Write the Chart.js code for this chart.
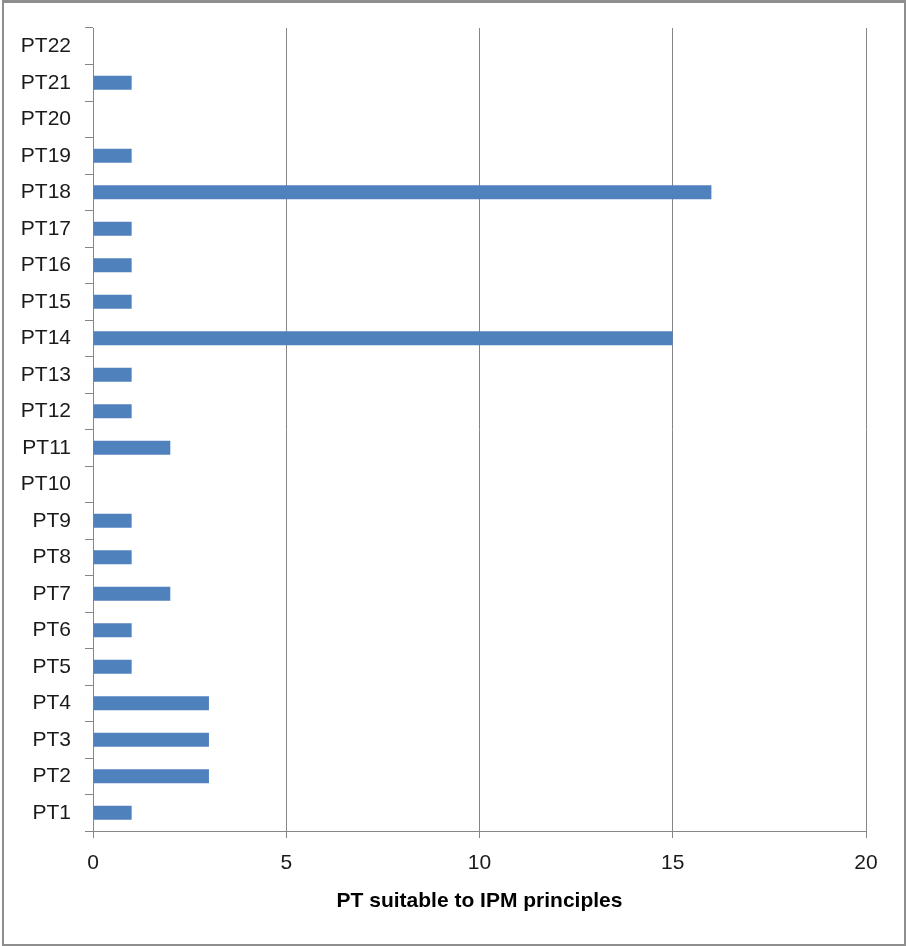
<!DOCTYPE html>
<html>
<head>
<meta charset="utf-8">
<script src="https://cdn.jsdelivr.net/npm/chart.js@4"></script>
<style>
  body { margin: 0; background: #fff; }
  #wrap { position: absolute; left: 0; top: 0; width: 906px; height: 946px; }
  #frame { position: absolute; left: 2px; top: 0; width: 904px; height: 946px;
           box-sizing: border-box; border: 2px solid #8e8e8e; border-top-width: 3px;
           pointer-events: none; }
</style>
</head>
<body>
<div id="wrap"><canvas id="ptChart" width="906" height="946"></canvas></div>
<div id="frame"></div>
<script>
const categories = ['PT1', 'PT2', 'PT3', 'PT4', 'PT5', 'PT6', 'PT7', 'PT8', 'PT9', 'PT10', 'PT11',
                    'PT12', 'PT13', 'PT14', 'PT15', 'PT16', 'PT17', 'PT18', 'PT19', 'PT20', 'PT21', 'PT22'];
const suitableCounts = [1, 3, 3, 3, 1, 1, 2, 1, 1, 0, 2, 1, 1, 15, 1, 1, 1, 16, 1, 0, 1, 0];
const xTicks = [0, 5, 10, 15, 20];

const axisGrey = '#868686';
const labelFont = { family: 'Liberation Sans', size: 21 };

const ctx = document.getElementById('ptChart');

new Chart(ctx, {
    type: 'bar',
    data: {
        labels: categories,
        datasets: [{
            data: suitableCounts,
            backgroundColor: '#4f81bd',
            borderWidth: 0,
            barPercentage: 0.48,
            categoryPercentage: 0.8
        }]
    },
    options: {
        indexAxis: 'y',
        responsive: false,
        animation: false,
        layout: { padding: { left: 0, top: 28, right: 40, bottom: 0 } },
        plugins: {
            legend: { display: false },
            tooltip: { enabled: false }
        },
        scales: {
            y: {
                reverse: true,
                afterFit: function(scale) { scale.width = 93; },
                grid: { drawOnChartArea: false, drawTicks: true, tickLength: 8, color: axisGrey, offset: true },
                border: { display: true, color: axisGrey, width: 1 },
                ticks: { color: '#1a1a1a', font: labelFont, padding: 14 }
            },
            x: {
                min: 0,
                max: 20,
                afterFit: function(scale) { scale.height = 115; },
                afterBuildTicks: function(scale) { scale.ticks = xTicks.map(v => ({ value: v })); },
                grid: { color: axisGrey, lineWidth: 1, tickLength: 7 },
                border: { display: true, color: axisGrey, width: 1 },
                ticks: { color: '#1a1a1a', font: labelFont, padding: 13, maxRotation: 0 },
                title: {
                    display: true,
                    text: 'PT suitable to IPM principles',
                    color: '#000',
                    font: { family: 'Liberation Sans', size: 21, weight: 'bold' },
                    padding: { top: 0, bottom: 32 }
                }
            }
        }
    }
});
</script>
</body>
</html>
